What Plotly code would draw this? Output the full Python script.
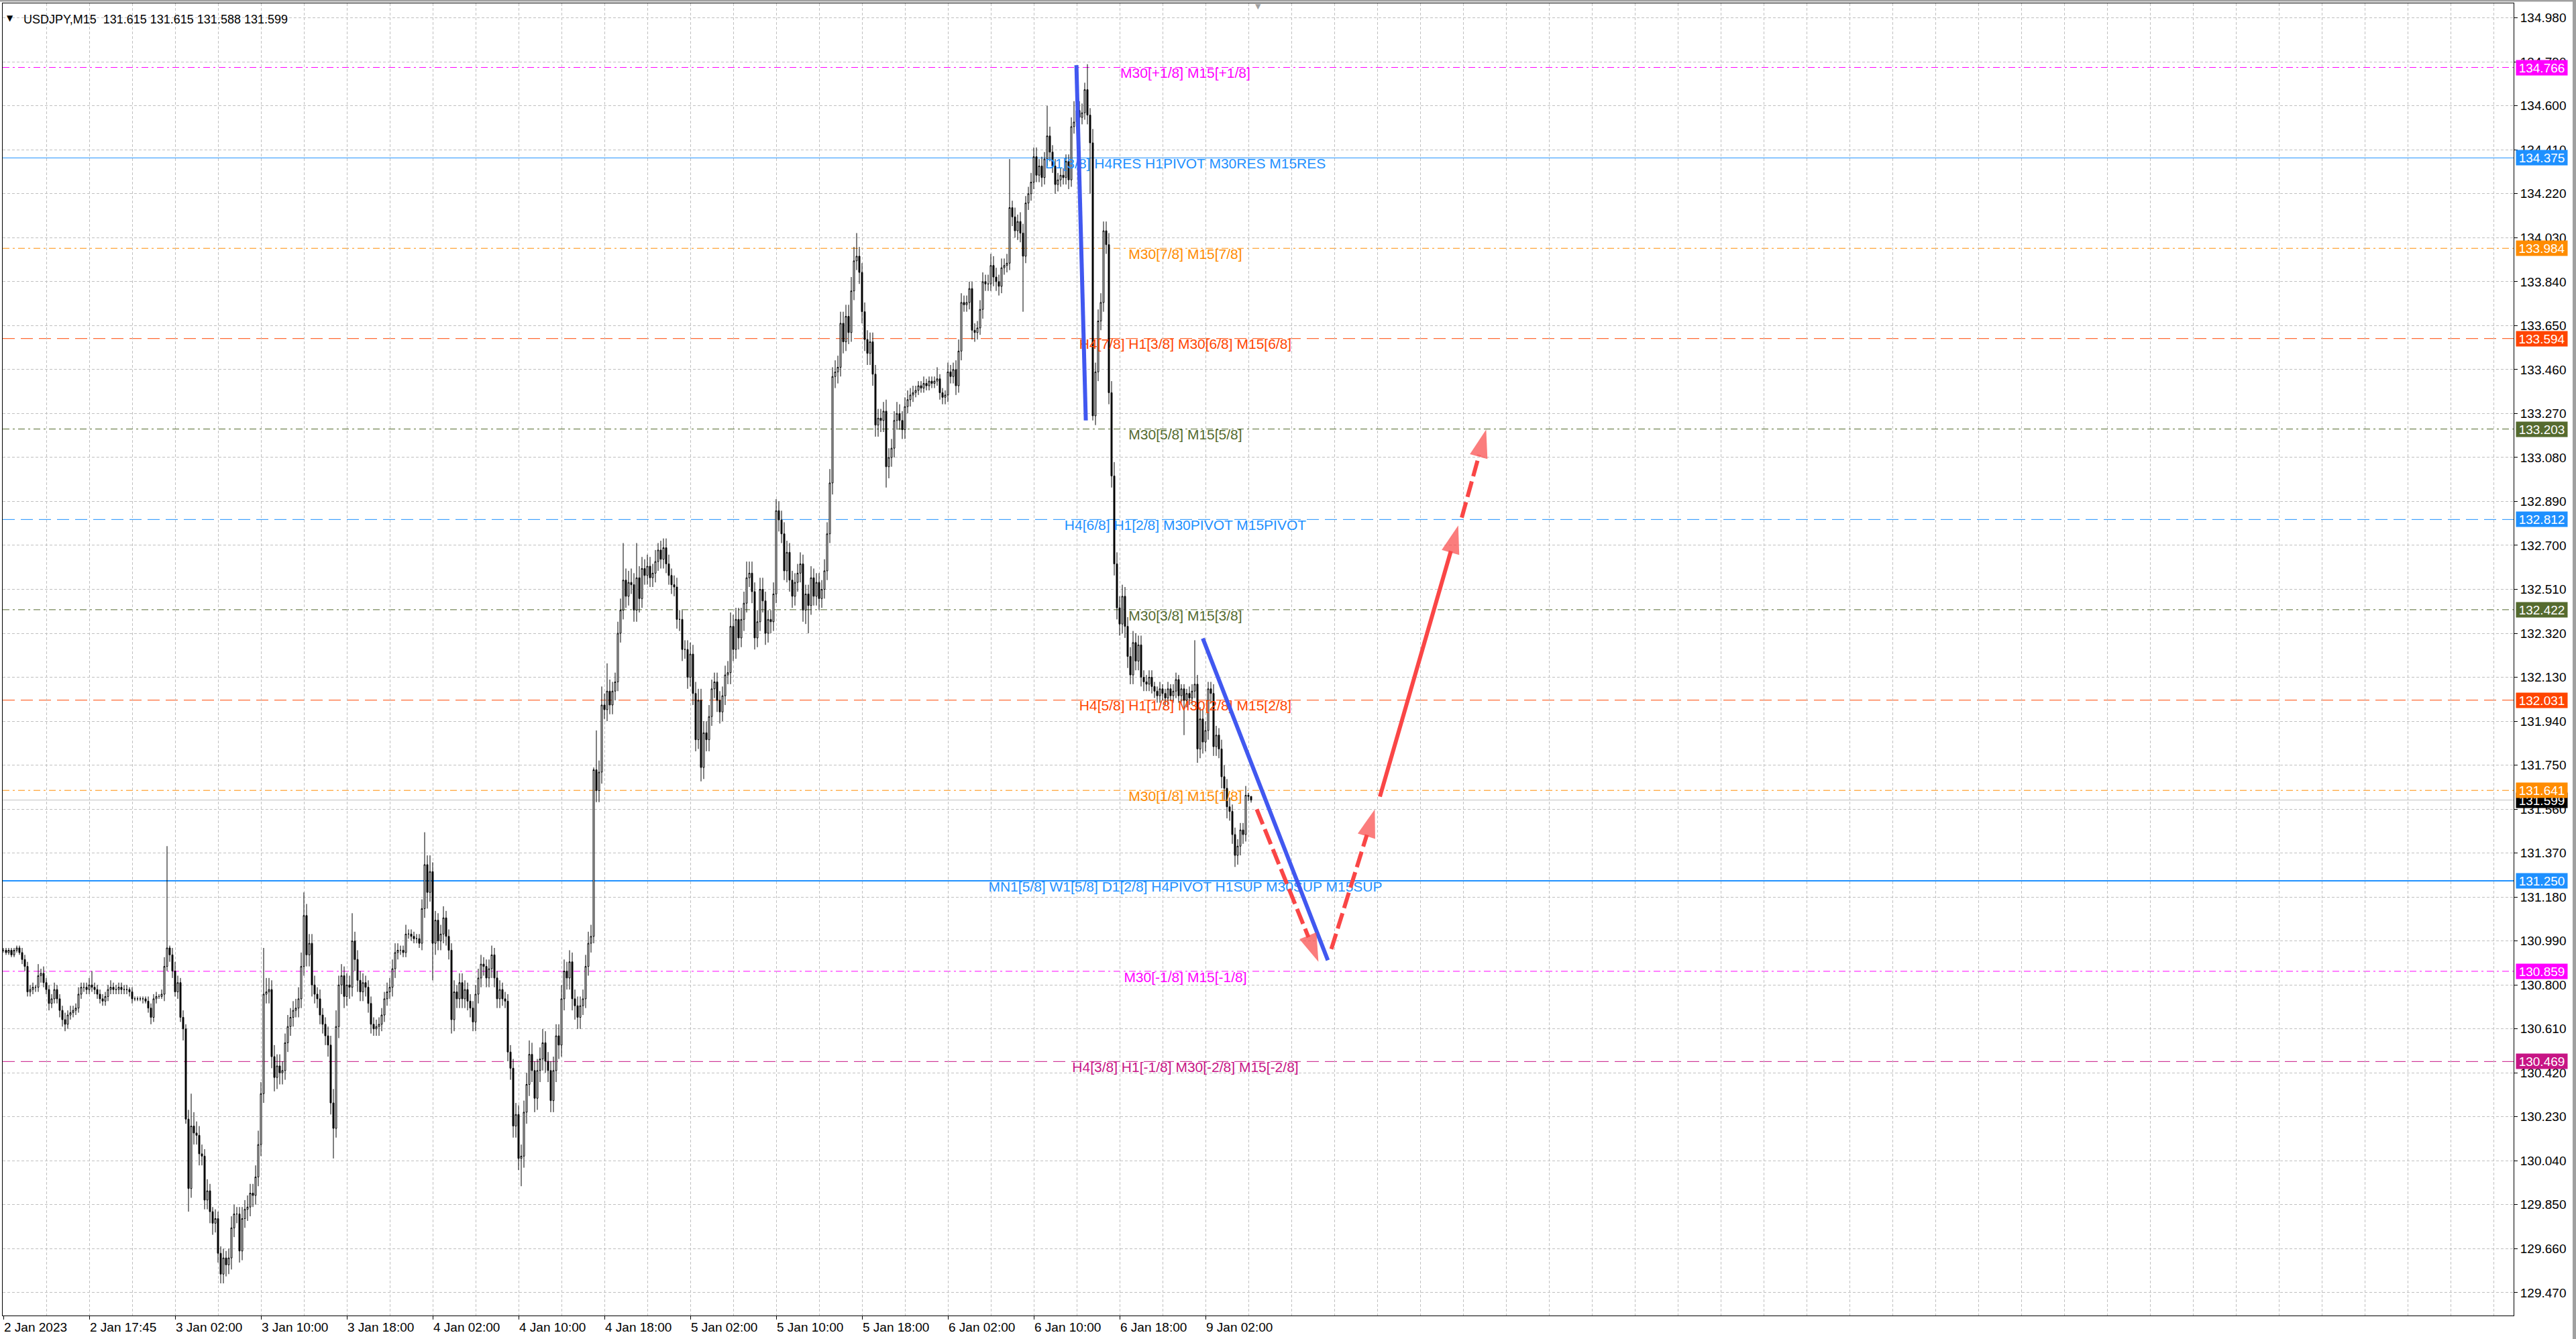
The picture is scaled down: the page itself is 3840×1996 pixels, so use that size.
import plotly.graph_objects as go

# USDJPY M15, 2 Jan 2023 .. 9 Jan 2023 (bars are indexed, MT4 style, no time gaps)
symbol = "USDJPY,M15"
first_open = 130.95

closes = [
    130.95, 130.94, 130.95, 130.93, 130.95, 130.96, 130.94, 130.91, 130.88, 130.77,  # 0
    130.78, 130.79, 130.79, 130.84, 130.85, 130.81, 130.78, 130.72, 130.74, 130.78,  # 10
    130.74, 130.69, 130.65, 130.63, 130.67, 130.68, 130.69, 130.70, 130.76, 130.79,  # 20
    130.79, 130.78, 130.80, 130.79, 130.78, 130.76, 130.74, 130.73, 130.75, 130.78,  # 30
    130.79, 130.78, 130.78, 130.79, 130.78, 130.78, 130.78, 130.77, 130.74, 130.74,  # 40
    130.74, 130.74, 130.74, 130.73, 130.70, 130.66, 130.74, 130.75, 130.75, 130.76,  # 50
    130.88, 130.96, 130.93, 130.86, 130.77, 130.81, 130.66, 130.61, 130.22, 129.92,  # 60
    130.19, 130.16, 130.15, 130.07, 130.06, 129.87, 129.91, 129.82, 129.77, 129.79,  # 70
    129.64, 129.55, 129.62, 129.59, 129.62, 129.75, 129.81, 129.81, 129.65, 129.79,  # 80
    129.83, 129.84, 129.90, 129.89, 129.97, 130.11, 130.33, 130.76, 130.77, 130.78,  # 90
    130.49, 130.40, 130.45, 130.42, 130.43, 130.55, 130.62, 130.66, 130.69, 130.70,  # 100
    130.74, 130.88, 131.10, 130.93, 130.98, 130.80, 130.76, 130.74, 130.67, 130.63,  # 110
    130.58, 130.54, 130.29, 130.18, 130.62, 130.80, 130.84, 130.75, 130.80, 130.79,  # 120
    130.99, 130.91, 130.82, 130.77, 130.81, 130.79, 130.72, 130.63, 130.61, 130.62,  # 130
    130.63, 130.67, 130.74, 130.77, 130.79, 130.87, 130.94, 130.95, 130.95, 130.94,  # 140
    131.02, 131.02, 131.01, 131.00, 131.00, 130.98, 131.13, 131.32, 131.20, 131.29,  # 150
    130.98, 131.08, 130.99, 131.02, 131.09, 131.01, 130.95, 130.65, 130.77, 130.74,  # 160
    130.81, 130.74, 130.78, 130.73, 130.70, 130.64, 130.76, 130.83, 130.89, 130.88,  # 170
    130.83, 130.87, 130.93, 130.83, 130.74, 130.78, 130.74, 130.73, 130.51, 130.44,  # 180
    130.19, 130.24, 130.05, 130.06, 130.25, 130.37, 130.50, 130.43, 130.31, 130.43,  # 190
    130.48, 130.55, 130.47, 130.43, 130.30, 130.43, 130.58, 130.54, 130.74, 130.86,  # 200
    130.83, 130.90, 130.74, 130.71, 130.66, 130.71, 130.74, 130.88, 130.98, 131.01,  # 210
    131.73, 131.64, 131.72, 132.01, 131.99, 132.07, 132.01, 132.07, 132.11, 132.32,  # 220
    132.42, 132.55, 132.48, 132.54, 132.53, 132.42, 132.56, 132.47, 132.60, 132.57,  # 230
    132.61, 132.56, 132.58, 132.63, 132.68, 132.64, 132.69, 132.62, 132.57, 132.53,  # 240
    132.52, 132.38, 132.38, 132.25, 132.25, 132.13, 132.23, 132.06, 131.86, 132.03,  # 250
    131.74, 131.89, 131.86, 131.96, 132.08, 132.11, 132.03, 131.98, 132.05, 132.14,  # 260
    132.15, 132.35, 132.25, 132.38, 132.30, 132.38, 132.45, 132.56, 132.58, 132.50,  # 270
    132.30, 132.37, 132.51, 132.46, 132.32, 132.38, 132.37, 132.49, 132.85, 132.81,  # 280
    132.75, 132.59, 132.67, 132.55, 132.48, 132.54, 132.58, 132.62, 132.42, 132.49,  # 290
    132.44, 132.56, 132.48, 132.54, 132.47, 132.51, 132.59, 132.75, 132.97, 133.43,  # 300
    133.45, 133.47, 133.66, 133.58, 133.69, 133.62, 133.80, 133.93, 133.95, 133.88,  # 310
    133.71, 133.59, 133.53, 133.58, 133.44, 133.22, 133.25, 133.24, 133.28, 133.04,  # 320
    133.08, 133.12, 133.24, 133.27, 133.24, 133.20, 133.30, 133.33, 133.35, 133.36,  # 330
    133.37, 133.39, 133.38, 133.40, 133.39, 133.41, 133.40, 133.41, 133.42, 133.36,  # 340
    133.34, 133.35, 133.45, 133.43, 133.46, 133.39, 133.54, 133.75, 133.74, 133.75,  # 350
    133.81, 133.63, 133.62, 133.64, 133.72, 133.84, 133.83, 133.83, 133.91, 133.86,  # 360
    133.84, 133.82, 133.90, 133.91, 133.92, 134.16, 134.12, 134.06, 134.10, 134.05,  # 370
    133.95, 134.18, 134.22, 134.27, 134.38, 134.30, 134.34, 134.29, 134.37, 134.47,  # 380
    134.40, 134.34, 134.26, 134.28, 134.30, 134.29, 134.36, 134.28, 134.51, 134.53,  # 390
    134.58, 134.55, 134.57, 134.67, 134.56, 134.44, 133.26, 133.45, 133.67, 133.75,  # 400
    134.06, 134.00, 133.36, 133.00, 132.62, 132.43, 132.36, 132.48, 132.35, 132.22,  # 410
    132.14, 132.28, 132.20, 132.27, 132.13, 132.11, 132.10, 132.13, 132.09, 132.07,  # 420
    132.05, 132.08, 132.06, 132.04, 132.08, 132.05, 132.07, 132.12, 132.05, 132.08,  # 430
    132.03, 132.06, 132.04, 132.07, 132.10, 131.82, 131.95, 131.85, 131.90, 132.08,  # 440
    132.06, 131.83, 131.88, 131.82, 131.70, 131.65, 131.57, 131.55, 131.45, 131.36,  # 450
    131.40, 131.47, 131.45, 131.62, 131.615, 131.599,                                # 460
]

wick_up = [
    .01, .01, .01, .01, .01, .01, .01, .02, .02, .02,
    .02, .02, .01, .05, .02, .03, .02, .02, .02, .03,
    .02, .02, .02, .03, .02, .03, .02, .02, .03, .02,
    .02, .02, .03, .06, .02, .02, .02, .02, .02, .02,
    .03, .02, .02, .02, .02, .02, .02, .01, .02, .01,
    .01, .01, .01, .01, .02, .02, .02, .02, .01, .02,
    .04, .44, .01, .03, .04, .03, .02, .03, .02, .04,
    .14, .06, .05, .04, .04, .03, .05, .03, .02, .04,
    .03, .03, .04, .03, .04, .05, .04, .03, .03, .05,
    .04, .05, .04, .04, .05, .06, .05, .20, .06, .05,
    .04, .05, .05, .05, .04, .04, .05, .04, .04, .04,
    .05, .06, .10, .05, .04, .04, .04, .03, .04, .03,
    .03, .04, .04, .06, .07, .04, .05, .04, .05, .04,
    .12, .04, .04, .04, .04, .03, .03, .03, .03, .03,
    .03, .03, .03, .04, .04, .04, .04, .03, .02, .02,
    .04, .02, .02, .02, .02, .02, .04, .14, .04, .07,
    .04, .04, .03, .04, .05, .03, .03, .03, .05, .03,
    .04, .04, .04, .03, .03, .03, .04, .04, .04, .03,
    .03, .04, .04, .03, .03, .04, .03, .03, .03, .03,
    .04, .05, .04, .05, .05, .05, .06, .05, .04, .05,
    .05, .06, .05, .04, .04, .06, .05, .05, .06, .05,
    .04, .05, .04, .04, .04, .04, .04, .05, .05, .05,
    .01, .17, .05, .08, .05, .12, .05, .04, .04, .05,
    .05, .16, .05, .05, .06, .05, .15, .05, .05, .04,
    .05, .04, .04, .05, .03, .04, .04, .04, .04, .03,
    .04, .04, .04, .04, .04, .04, .05, .04, .05, .05,
    .05, .05, .05, .05, .04, .04, .04, .04, .04, .04,
    .05, .06, .05, .05, .05, .05, .05, .07, .05, .05,
    .04, .05, .05, .05, .04, .04, .04, .05, .05, .04,
    .04, .05, .05, .04, .04, .04, .04, .05, .04, .04,
    .04, .05, .04, .04, .04, .04, .05, .05, .06, .04,
    .05, .05, .05, .05, .05, .05, .06, .06, .10, .04,
    .04, .04, .04, .04, .04, .04, .04, .04, .04, .05,
    .04, .04, .04, .05, .04, .04, .04, .04, .03, .03,
    .02, .02, .02, .03, .02, .02, .02, .02, .05, .02,
    .02, .02, .04, .03, .03, .04, .05, .04, .03, .03,
    .03, .03, .03, .03, .04, .04, .03, .04, .05, .04,
    .04, .03, .04, .03, .04, .21, .03, .04, .03, .04,
    .04, .03, .03, .04, .04, .04, .03, .04, .03, .13,
    .04, .03, .03, .03, .03, .03, .03, .03, .04, .09,
    .04, .04, .04, .03, .11, .03, .06, .04, .05, .04,
    .04, .04, .05, .05, .06, .05, .05, .05, .04, .04,
    .04, .05, .04, .04, .04, .03, .03, .03, .03, .02,
    .02, .03, .02, .02, .03, .02, .03, .03, .02, .02,
    .02, .02, .03, .03, .19, .04, .05, .04, .04, .03,
    .03, .04, .04, .03, .04, .05, .04, .04, .03, .03,
    .03, .03, .03, .04, .01, 0.0,
]

wick_dn = [
    .01, .01, .01, .01, .01, .01, .01, .02, .02, .02,
    .02, .02, .02, .02, .03, .02, .02, .03, .02, .02,
    .02, .03, .03, .03, .02, .02, .02, .02, .02, .02,
    .02, .02, .02, .02, .02, .02, .02, .02, .02, .02,
    .02, .02, .02, .02, .02, .02, .02, .02, .02, .01,
    .01, .01, .02, .01, .02, .03, .02, .02, .01, .01,
    .03, .02, .03, .03, .02, .03, .02, .05, .02, .10,
    .04, .05, .04, .05, .04, .04, .04, .05, .05, .04,
    .04, .04, .04, .05, .04, .05, .04, .04, .05, .04,
    .04, .05, .04, .05, .04, .04, .05, .04, .04, .05,
    .05, .06, .05, .05, .05, .04, .04, .04, .04, .03,
    .04, .04, .04, .05, .05, .05, .04, .04, .04, .04,
    .04, .05, .05, .13, .04, .05, .04, .05, .04, .05,
    .04, .05, .05, .04, .04, .04, .04, .04, .03, .03,
    .04, .03, .03, .03, .03, .04, .04, .03, .02, .02,
    .02, .02, .02, .02, .02, .02, .03, .04, .07, .04,
    .16, .05, .04, .04, .04, .04, .04, .06, .05, .04,
    .04, .04, .04, .04, .04, .04, .04, .04, .04, .04,
    .04, .04, .04, .04, .04, .04, .03, .03, .04, .05,
    .05, .05, .05, .12, .05, .05, .05, .05, .06, .05,
    .05, .05, .05, .05, .05, .05, .05, .06, .05, .05,
    .05, .05, .05, .06, .05, .05, .04, .04, .04, .04,
    .03, .05, .05, .05, .04, .05, .04, .04, .04, .04,
    .04, .04, .05, .04, .04, .05, .05, .06, .04, .04,
    .04, .04, .04, .04, .04, .04, .04, .04, .04, .04,
    .04, .04, .05, .05, .04, .05, .04, .05, .05, .04,
    .06, .05, .05, .05, .04, .04, .05, .05, .04, .04,
    .04, .05, .05, .04, .05, .04, .05, .04, .04, .05,
    .05, .04, .04, .05, .05, .04, .05, .04, .04, .05,
    .04, .04, .05, .05, .05, .04, .04, .04, .05, .06,
    .12, .04, .04, .04, .05, .04, .04, .04, .04, .05,
    .05, .05, .04, .05, .04, .05, .04, .04, .04, .05,
    .05, .05, .05, .05, .05, .05, .05, .05, .05, .09,
    .05, .04, .04, .04, .04, .04, .04, .03, .03, .03,
    .02, .02, .02, .02, .02, .02, .02, .02, .02, .03,
    .03, .03, .03, .03, .03, .04, .03, .04, .03, .03,
    .03, .04, .04, .03, .03, .04, .03, .03, .03, .04,
    .04, .04, .03, .03, .03, .03, .04, .03, .04, .04,
    .24, .03, .03, .03, .03, .03, .03, .04, .03, .03,
    .04, .03, .04, .03, .03, .03, .03, .04, .03, .03,
    .03, .03, .03, .03, .04, .22, .02, .04, .04, .04,
    .04, .04, .05, .05, .05, .05, .05, .04, .05, .05,
    .04, .04, .04, .04, .04, .04, .03, .03, .03, .03,
    .03, .03, .03, .03, .03, .02, .03, .03, .03, .03,
    .15, .03, .03, .03, .03, .06, .04, .05, .04, .04,
    .04, .04, .04, .04, .05, .05, .05, .04, .04, .05,
    .04, .04, .04, .03, .02, .011,
]

# Murrey math levels drawn on the chart
levels = [134.766, 134.375, 133.984, 133.594, 133.203, 132.812,
          132.422, 132.031, 131.641, 131.250, 130.859, 130.469]
level_names = [
    "M30[+1/8] M15[+1/8]",
    "D1[3/8] H4RES H1PIVOT M30RES M15RES",
    "M30[7/8] M15[7/8]",
    "H4[7/8] H1[3/8] M30[6/8] M15[6/8]",
    "M30[5/8] M15[5/8]",
    "H4[6/8] H1[2/8] M30PIVOT M15PIVOT",
    "M30[3/8] M15[3/8]",
    "H4[5/8] H1[1/8] M30[2/8] M15[2/8]",
    "M30[1/8] M15[1/8]",
    "MN1[5/8] W1[5/8] D1[2/8] H4PIVOT H1SUP M30SUP M15SUP",
    "M30[-1/8] M15[-1/8]",
    "H4[3/8] H1[-1/8] M30[-2/8] M15[-2/8]",
]
level_colors = ["#FF00FF", "#1E90FF", "#FF8C00", "#FF4500", "#556B2F", "#1E90FF",
                "#556B2F", "#FF4500", "#FF8C00", "#1E90FF", "#FF00FF", "#C71585"]
DASHDOT = "10px,5px,3px,5px"
DASH = "18px,9px"
level_dash = [DASHDOT, "solid", DASHDOT, DASH, DASHDOT, DASH,
              DASHDOT, DASH, DASHDOT, "solid", DASHDOT, DASH]
level_width = [1, 1, 1, 1, 1, 1, 1, 1, 1, 2, 1, 1]

# time axis labels (every 32 bars = 8 hours)
tick_bars = [0, 32, 64, 96, 128, 160, 192, 224, 256, 288, 320, 352, 384, 416, 448]
tick_text = ["2 Jan 2023", "2 Jan 17:45", "3 Jan 02:00", "3 Jan 10:00", "3 Jan 18:00",
             "4 Jan 02:00", "4 Jan 10:00", "4 Jan 18:00", "5 Jan 02:00", "5 Jan 10:00",
             "5 Jan 18:00", "6 Jan 02:00", "6 Jan 10:00", "6 Jan 18:00", "9 Jan 02:00"]

price_ticks = [134.98, 134.79, 134.60, 134.41, 134.22, 134.03, 133.84, 133.65, 133.46,
               133.27, 133.08, 132.89, 132.70, 132.51, 132.32, 132.13, 131.94, 131.75,
               131.56, 131.37, 131.18, 130.99, 130.80, 130.61, 130.42, 130.23, 130.04,
               129.85, 129.66, 129.47]

# hand drawn forecast (bar index, price)
blue1_x, blue1_y = [399.9, 403.4], [134.776, 133.240]
blue2_x, blue2_y = [447.0, 493.6], [132.298, 130.907]
red_down_x, red_down_y = [467.1, 490.1], [131.559, 130.900]
red_up_x, red_up_y = [494.9, 511.1], [130.955, 131.559]
red_solid_x, red_solid_y = [513.0, 542.2], [131.614, 132.786]
red_top_x, red_top_y = [543.5, 552.6], [132.820, 133.201]

opens = [first_open] + closes[:-1]
highs = [max(o, c) + u for o, c, u in zip(opens, closes, wick_up)]
lows = [min(o, c) - d for o, c, d in zip(opens, closes, wick_dn)]
bars = list(range(len(closes)))

AXFONT = dict(family="Liberation Sans", size=19, color="black")
BLUE = "#4158F0"
RED = "#FA4646"
GRID = "#C0C0C0"

fig = go.Figure()

fig.add_trace(go.Candlestick(
    x=bars, open=opens, high=highs, low=lows, close=closes,
    increasing=dict(line=dict(color="black", width=1), fillcolor="white"),
    decreasing=dict(line=dict(color="black", width=1), fillcolor="black"),
    whiskerwidth=0, hoverinfo="skip",
))

# level captions
fig.add_trace(go.Scatter(
    x=[440.5] * len(levels), y=levels, mode="text", text=level_names,
    textposition="bottom center",
    textfont=dict(family="Liberation Sans", size=21, color=level_colors),
    hoverinfo="skip",
))

for xs, ys in [(blue1_x, blue1_y), (blue2_x, blue2_y)]:
    fig.add_trace(go.Scatter(x=xs, y=ys, mode="lines",
                             line=dict(color=BLUE, width=6),
                             hoverinfo="skip"))

for xs, ys, dash in [
    (red_down_x, red_down_y, "24px,8px"),
    (red_up_x, red_up_y, "24px,8px"),
    (red_solid_x, red_solid_y, "solid"),
    (red_top_x, red_top_y, "24px,8px"),
]:
    fig.add_trace(go.Scatter(
        x=xs, y=ys, mode="lines+markers",
        line=dict(color=RED, width=6, dash=dash),
        marker=dict(symbol="arrow", size=[0, 44], color=RED, angleref="previous",
                    line=dict(width=0)),
        hoverinfo="skip"))

shapes = []
for lv, col, dash, w in zip(levels, level_colors, level_dash, level_width):
    shapes.append(dict(type="line", xref="paper", x0=0, x1=1, yref="y", y0=lv, y1=lv,
                       line=dict(color=col, width=w, dash=dash), layer="between"))
# bid line
shapes.append(dict(type="line", xref="paper", x0=0, x1=1, yref="y",
                   y0=closes[-1], y1=closes[-1], line=dict(color=GRID, width=1),
                   layer="between"))
# window chrome
shapes.append(dict(type="rect", xref="paper", yref="paper", x0=-0.01, x1=1.03,
                   y0=1.0013, y1=1.003, fillcolor="#A0A0A0", line=dict(width=0)))
shapes.append(dict(type="rect", xref="paper", yref="paper", x0=1.0235, x1=1.03,
                   y0=-0.03, y1=1.003, fillcolor="#A0A0A0", line=dict(width=0)))

annotations = []
# current bid label first, so the level label covers it
annotations.append(dict(xref="paper", x=1, xanchor="left", xshift=3, yref="y",
                        y=closes[-1], yanchor="middle", text=f"{closes[-1]:.3f}",
                        font=dict(family="Liberation Sans", size=19, color="white"),
                        bgcolor="black", width=74, height=20, borderpad=1,
                        showarrow=False))
for lv, col in zip(levels, level_colors):
    annotations.append(dict(xref="paper", x=1, xanchor="left", xshift=3, yref="y",
                            y=lv, yanchor="middle", text=f"{lv:.3f}",
                            font=dict(family="Liberation Sans", size=19, color="white"),
                            bgcolor=col, width=74, height=20, borderpad=1,
                            showarrow=False))

header = "%s\u00a0\u00a0%.3f %.3f %.3f %.3f" % (symbol, opens[-1], highs[-1], lows[-1], closes[-1])
annotations.append(dict(xref="paper", x=0, xanchor="left", xshift=29, yref="paper",
                        y=1, yanchor="middle", yshift=-24, text=header,
                        font=dict(family="Liberation Sans", size=18, color="black"),
                        showarrow=False))
annotations.append(dict(xref="paper", x=0, xanchor="left", xshift=4, yref="paper",
                        y=1, yanchor="middle", yshift=-22, text="\u25BC",
                        font=dict(family="DejaVu Sans", size=12, color="black"),
                        showarrow=False))
# chart shift marker
annotations.append(dict(xref="x", x=len(closes) + 1.5, yref="paper", y=1, yanchor="top",
                        yshift=4, text="\u25BC",
                        font=dict(family="DejaVu Sans", size=11, color="#A0A0A0"),
                        showarrow=False))

fig.update_layout(
    width=3840, height=1996,
    margin=dict(l=4, r=93, t=5, b=35),
    paper_bgcolor="white", plot_bgcolor="white",
    showlegend=False, shapes=shapes, annotations=annotations,
    xaxis=dict(
        range=[-0.25, 935.5], rangeslider=dict(visible=False),
        tickmode="array", tickvals=tick_bars, ticktext=tick_text,
        ticks="outside", ticklen=5, tickcolor="black",
        ticklabelposition="outside right", tickfont=AXFONT,
        showline=True, mirror=True, linecolor="black", linewidth=1,
        showgrid=False, zeroline=False,
        minor=dict(tickmode="array", tickvals=list(range(0, 936, 16)), showgrid=True,
                   gridcolor=GRID, griddash="4px,3px", gridwidth=1, ticks=""),
    ),
    yaxis=dict(
        side="right", range=[129.371, 135.043],
        tickmode="array", tickvals=price_ticks,
        ticktext=[f"{v:.3f}" for v in price_ticks],
        ticks="outside", ticklen=5, tickcolor="black", tickfont=AXFONT,
        showline=True, mirror=True, linecolor="black", linewidth=1,
        showgrid=True, gridcolor=GRID, griddash="4px,3px", gridwidth=1,
        zeroline=False,
    ),
)

fig.write_html("out.html", config={"displayModeBar": False},
               post_script="document.body.style.margin='0';")
